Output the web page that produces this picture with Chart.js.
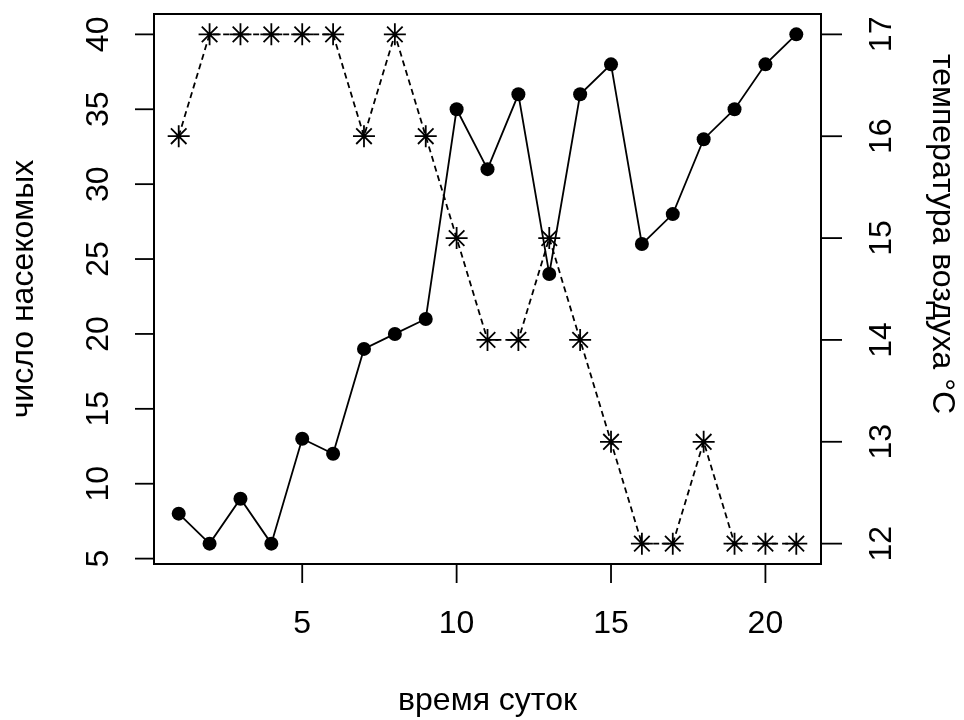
<!DOCTYPE html>
<html>
<head>
<meta charset="utf-8">
<title>насекомые и температура</title>
<script src="https://cdn.jsdelivr.net/npm/chart.js@4.4.1/dist/chart.umd.min.js"></script>
<style>
  html, body { margin: 0; padding: 0; background: #fff; }
  #plot { display: block; }
</style>
</head>
<body>
<canvas id="plot" width="964" height="720"></canvas>
<script>
// hours of the day on the x axis
const hours = [1, 2, 3, 4, 5, 6, 7, 8, 9, 10, 11, 12, 13, 14, 15, 16, 17, 18, 19, 20, 21];
// number of insects caught (left axis)
const insects = [8, 6, 9, 6, 13, 12, 19, 20, 21, 35, 31, 36, 24, 36, 38, 26, 28, 33, 35, 38, 40];
// air temperature, °C (right axis)
const temperature = [16, 17, 17, 17, 17, 17, 16, 17, 16, 15, 14, 14, 15, 14, 13, 12, 12, 13, 12, 12, 12];

const xTicks = [5, 10, 15, 20];
const insectTicks = [5, 10, 15, 20, 25, 30, 35, 40];
const tempTicks = [12, 13, 14, 15, 16, 17];

const xTitle = 'время суток';
const leftTitle = 'число насекомых';
const rightTitle = 'температура воздуха °C';

const FONT = '32px "Liberation Sans", Arial, sans-serif';
const TICK = 19;

// R-style axes: ticks outside a closed box, labels parallel to each axis
const rAxes = {
  id: 'rAxes',
  afterDraw(chart) {
    const c = chart.ctx;
    const a = chart.chartArea;
    const sx = chart.scales.x;
    const sy = chart.scales.y;
    const sy2 = chart.scales.y2;

    c.save();
    c.strokeStyle = '#000';
    c.fillStyle = '#000';
    c.lineWidth = 2;
    c.strokeRect(a.left, a.top, a.right - a.left, a.bottom - a.top);

    c.font = FONT;
    c.lineWidth = 1.8;

    // bottom axis
    c.textAlign = 'center';
    c.textBaseline = 'alphabetic';
    xTicks.forEach(v => {
      const px = sx.getPixelForValue(v);
      c.beginPath();
      c.moveTo(px, a.bottom);
      c.lineTo(px, a.bottom + TICK);
      c.stroke();
      c.fillText(String(v), px, 633);
    });
    c.fillText(xTitle, (a.left + a.right) / 2, 710);

    // left axis
    insectTicks.forEach(v => {
      const py = sy.getPixelForValue(v);
      c.beginPath();
      c.moveTo(a.left - TICK, py);
      c.lineTo(a.left, py);
      c.stroke();
      c.save();
      c.translate(108, py);
      c.rotate(-Math.PI / 2);
      c.fillText(String(v), 0, 0);
      c.restore();
    });
    c.save();
    c.translate(33, (a.top + a.bottom) / 2);
    c.rotate(-Math.PI / 2);
    c.fillText(leftTitle, 0, 0);
    c.restore();

    // right axis
    tempTicks.forEach(v => {
      const py = sy2.getPixelForValue(v);
      c.beginPath();
      c.moveTo(a.right, py);
      c.lineTo(a.right + TICK + 2, py);
      c.stroke();
      c.save();
      c.translate(891, py);
      c.rotate(-Math.PI / 2);
      c.fillText(String(v), 0, 0);
      c.restore();
    });
    c.save();
    c.translate(933, 234);
    c.rotate(Math.PI / 2);
    c.fillText(rightTitle, 0, 0);
    c.restore();

    c.restore();
  }
};

const ctx = document.getElementById('plot').getContext('2d');

new Chart(ctx, {
  type: 'line',
  data: {
    datasets: [
      {
        label: 'insects',
        data: hours.map((h, i) => ({ x: h, y: insects[i] })),
        yAxisID: 'y',
        borderColor: '#000',
        borderWidth: 1.8,
        pointStyle: 'circle',
        pointRadius: 7,
        pointBackgroundColor: '#000',
        pointBorderColor: '#000',
        pointBorderWidth: 0,
        tension: 0
      },
      {
        label: 'temperature',
        data: hours.map((h, i) => ({ x: h, y: temperature[i] })),
        yAxisID: 'y2',
        borderColor: '#000',
        borderWidth: 1.8,
        borderDash: [6, 4],
        pointStyle: 'star',
        pointRadius: 11,
        pointBorderColor: '#000',
        pointBackgroundColor: '#000',
        pointBorderWidth: 1.8,
        tension: 0
      }
    ]
  },
  options: {
    responsive: false,
    animation: false,
    layout: {
      padding: { left: 154, right: 143, top: 14, bottom: 156 }
    },
    plugins: {
      legend: { display: false },
      tooltip: { enabled: false }
    },
    scales: {
      x: { type: 'linear', min: 0.2, max: 21.8, display: false },
      y: { type: 'linear', min: 4.64, max: 41.36, display: false },
      y2: { type: 'linear', min: 11.8, max: 17.2, display: false, position: 'right' }
    }
  },
  plugins: [rAxes]
});
</script>
</body>
</html>
